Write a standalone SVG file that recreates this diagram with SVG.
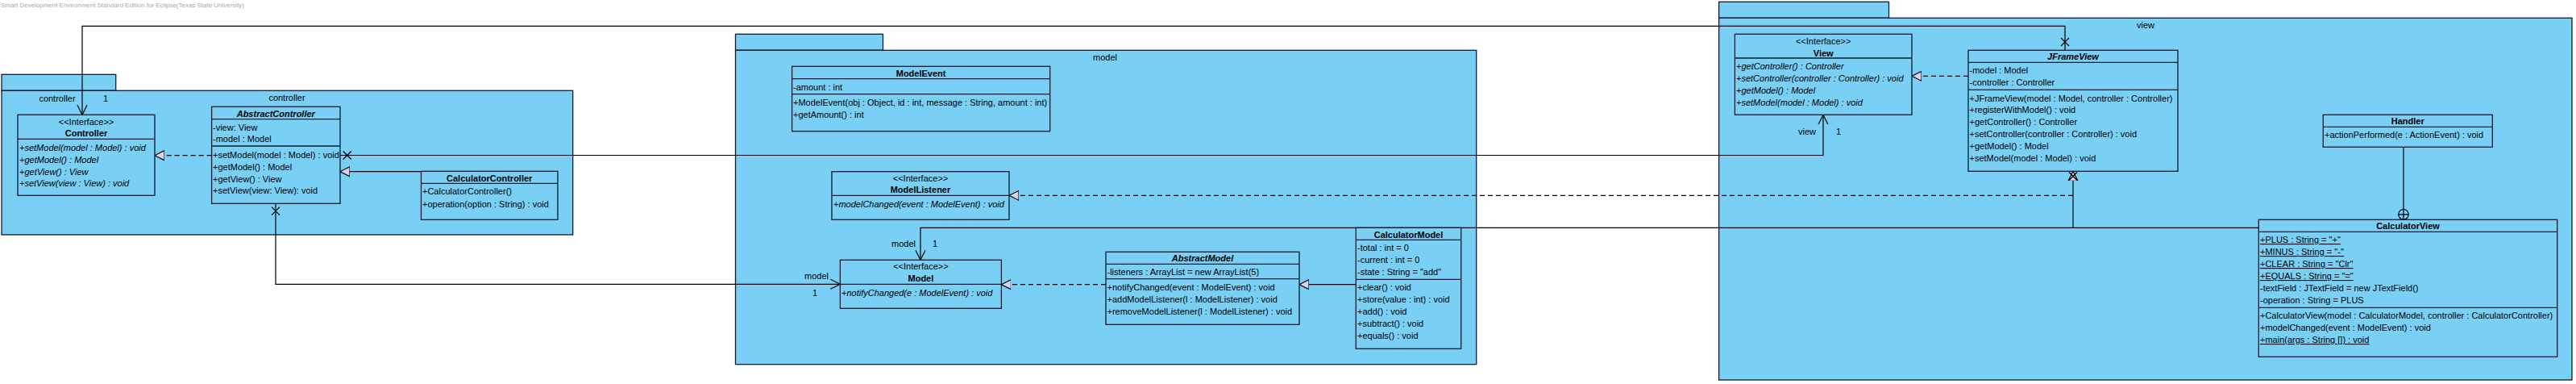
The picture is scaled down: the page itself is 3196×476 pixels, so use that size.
<svg xmlns="http://www.w3.org/2000/svg" width="3196" height="476" viewBox="0 0 3196 476">
<style>
text{font-family:"Liberation Sans",Arial,sans-serif;font-size:11px;fill:#000}
.pkg{fill:#7acff5;stroke:#0d1a2e;stroke-width:1.3}
.box{fill:#7acff5;stroke:#0d1a2e;stroke-width:1.3}
.sep{stroke:#0d1a2e;stroke-width:1.3}
.c{text-anchor:middle}
.b{font-weight:bold}
.i{font-style:italic}
.u{text-decoration:underline}
.ln{fill:none;stroke:#000;stroke-width:1.2}
.dash{fill:none;stroke:#000;stroke-width:1.2;stroke-dasharray:6,4}
.tri{fill:#d9d4ee;stroke:#000;stroke-width:1.2}
.hdr{font-size:8px;fill:#a8a8a8}
</style>
<defs>
<marker id="open" markerWidth="14" markerHeight="14" refX="12" refY="7" orient="auto" markerUnits="userSpaceOnUse"><path d="M0,1 L12,7 L0,13" fill="none" stroke="#000" stroke-width="1.2"/></marker>
<marker id="tri" markerWidth="14" markerHeight="14" refX="12" refY="7" orient="auto" markerUnits="userSpaceOnUse"><path d="M0,1 L12,7 L0,13 Z" class="tri"/></marker>
</defs>
<rect width="3196" height="476" fill="#fff"/>
<text class="hdr" x="1" y="9" textLength="302" lengthAdjust="spacingAndGlyphs">Smart Development Environment Standard Edition for Eclipse(Texas State University)</text>

<g id="pkg-controller">
<rect class="pkg" x="2" y="92.3" width="141.7" height="20"/>
<rect class="pkg" x="2" y="112.3" width="708.7" height="178.7"/>
<text class="c" x="356" y="124.5">controller</text>
</g>
<g id="pkg-model">
<rect class="pkg" x="912.5" y="42.3" width="183" height="20"/>
<rect class="pkg" x="912.5" y="62.3" width="919.2" height="389.4"/>
<text class="c" x="1371" y="74.5">model</text>
</g>
<g id="pkg-view">
<rect class="pkg" x="2132.6" y="2.3" width="210.9" height="20"/>
<rect class="pkg" x="2132.6" y="22.3" width="1058.4" height="448.7"/>
<text class="c" x="2662" y="34.5">view</text>
</g>

<g id="connectors">
<polyline class="ln" points="2562,62.3 2562,32.3 102,32.3 102,142.3" marker-end="url(#open)"/>
<path class="ln" d="M2557,47 L2567,57 M2567,47 L2557,57"/>
<text class="c" x="71" y="126">controller</text>
<text class="c" x="131" y="126">1</text>

<polyline class="ln" points="422,192.5 2262,192.5 2262,142.3" marker-end="url(#open)"/>
<path class="ln" d="M425.7,187.5 L435.7,197.5 M435.7,187.5 L425.7,197.5"/>
<text class="c" x="2242" y="166.5">view</text>
<text class="c" x="2281" y="166.5">1</text>

<polyline class="ln" points="342,252.3 342,352.3 1042.4,352.3" marker-end="url(#open)"/>
<path class="ln" d="M337,256.7 L347,266.7 M347,256.7 L337,266.7"/>
<text class="c" x="1013" y="346">model</text>
<text class="c" x="1011" y="366.5">1</text>

<line class="dash" x1="262.6" y1="192.7" x2="192" y2="192.7" marker-end="url(#tri)"/>
<line class="ln" x1="522.5" y1="212.7" x2="422" y2="212.7" marker-end="url(#tri)"/>

<line class="dash" x1="2572" y1="242.3" x2="1252" y2="242.3" marker-end="url(#tri)"/>
<polyline class="ln" points="2802.3,282.3 2572,282.3 1142,282.3 1142,322.3" marker-end="url(#open)"/>
<line class="ln" x1="2572" y1="282.3" x2="2572" y2="212.3" marker-end="url(#tri)"/>
<path class="ln" d="M2567,213.5 L2577,223.5 M2577,213.5 L2567,223.5"/>
<text class="c" x="1121" y="306">model</text>
<text class="c" x="1160" y="306">1</text>

<line class="dash" x1="1372" y1="352.7" x2="1242.4" y2="352.7" marker-end="url(#tri)"/>
<line class="ln" x1="1682.3" y1="352.7" x2="1612" y2="352.7" marker-end="url(#tri)"/>
<line class="dash" x1="2442" y1="94.3" x2="2372" y2="94.3" marker-end="url(#tri)"/>

<line class="ln" x1="2982" y1="182.3" x2="2982" y2="259.3"/>
<circle cx="2982" cy="265.8" r="6.3" fill="none" stroke="#000" stroke-width="1.2"/>
<path class="ln" d="M2975.7,265.8 H2988.3 M2982,259.5 V272.1"/>
</g>

<g id="Controller">
<rect class="box" x="22" y="142.3" width="170" height="100"/>
<text class="c" x="107" y="154.5">&lt;&lt;Interface&gt;&gt;</text>
<text class="c b" x="107" y="169">Controller</text>
<line class="sep" x1="22" y1="172.3" x2="192" y2="172.3"/>
<text class="i" x="24" y="186.5">+setModel(model : Model) : void</text>
<text class="i" x="24" y="201.5">+getModel() : Model</text>
<text class="i" x="24" y="216.5">+getView() : View</text>
<text class="i" x="24" y="231">+setView(view : View) : void</text>
</g>

<g id="AbstractController">
<rect class="box" x="262.6" y="132.3" width="159.4" height="120"/>
<text class="c b i" x="342.3" y="144.5">AbstractController</text>
<line class="sep" x1="262.6" y1="147.7" x2="422" y2="147.7"/>
<text x="264" y="161.5">-view: View</text>
<text x="264" y="176">-model : Model</text>
<line class="sep" x1="262.6" y1="181" x2="422" y2="181"/>
<text x="264" y="196">+setModel(model : Model) : void</text>
<text x="264" y="211">+getModel() : Model</text>
<text x="264" y="225.5">+getView() : View</text>
<text x="264" y="240">+setView(view: View): void</text>
</g>

<g id="CalculatorController">
<rect class="box" x="522.5" y="212.3" width="169.5" height="60"/>
<text class="c b" x="607.2" y="224.5">CalculatorController</text>
<line class="sep" x1="522.5" y1="227.3" x2="692" y2="227.3"/>
<text x="524" y="241">+CalculatorController()</text>
<text x="524" y="256.5">+operation(option : String) : void</text>
</g>

<g id="ModelEvent">
<rect class="box" x="982.6" y="82.3" width="320.1" height="80.4"/>
<text class="c b" x="1142.6" y="95">ModelEvent</text>
<line class="sep" x1="982.6" y1="97.7" x2="1302.7" y2="97.7"/>
<text x="984" y="111.5">-amount : int</text>
<line class="sep" x1="982.6" y1="116.7" x2="1302.7" y2="116.7"/>
<text x="984" y="131">+ModelEvent(obj : Object, id : int, message : String, amount : int)</text>
<text x="984" y="145.5">+getAmount() : int</text>
</g>

<g id="ModelListener">
<rect class="box" x="1032" y="212.7" width="220" height="59.6"/>
<text class="c" x="1142" y="225">&lt;&lt;Interface&gt;&gt;</text>
<text class="c b" x="1142" y="239">ModelListener</text>
<line class="sep" x1="1032" y1="242.3" x2="1252" y2="242.3"/>
<text class="i" x="1034" y="256.5">+modelChanged(event : ModelEvent) : void</text>
</g>

<g id="Model">
<rect class="box" x="1042.4" y="322.3" width="200" height="60"/>
<text class="c" x="1142.4" y="334">&lt;&lt;Interface&gt;&gt;</text>
<text class="c b" x="1142.4" y="349">Model</text>
<line class="sep" x1="1042.4" y1="352.3" x2="1242.4" y2="352.3"/>
<text class="i" x="1044" y="366.5">+notifyChanged(e : ModelEvent) : void</text>
</g>

<g id="AbstractModel">
<rect class="box" x="1372" y="312.3" width="240" height="90"/>
<text class="c b i" x="1492" y="324">AbstractModel</text>
<line class="sep" x1="1372" y1="327.3" x2="1612" y2="327.3"/>
<text x="1373.5" y="341">-listeners : ArrayList = new ArrayList(5)</text>
<line class="sep" x1="1372" y1="345.7" x2="1612" y2="345.7"/>
<text x="1373.5" y="360">+notifyChanged(event : ModelEvent) : void</text>
<text x="1373.5" y="375">+addModelListener(l : ModelListener) : void</text>
<text x="1373.5" y="390">+removeModelListener(l : ModelListener) : void</text>
</g>

<g id="CalculatorModel">
<rect class="box" x="1682.3" y="282.3" width="130.4" height="150"/>
<text class="c b" x="1747.5" y="294.5">CalculatorModel</text>
<line class="sep" x1="1682.3" y1="297.3" x2="1812.7" y2="297.3"/>
<text x="1684" y="311">-total : int = 0</text>
<text x="1684" y="326">-current : int = 0</text>
<text x="1684" y="341">-state : String = "add"</text>
<line class="sep" x1="1682.3" y1="346.3" x2="1812.7" y2="346.3"/>
<text x="1684" y="360">+clear() : void</text>
<text x="1684" y="375">+store(value : int) : void</text>
<text x="1684" y="390">+add() : void</text>
<text x="1684" y="405">+subtract() : void</text>
<text x="1684" y="420">+equals() : void</text>
</g>

<g id="View">
<rect class="box" x="2152.4" y="42.3" width="219.6" height="100"/>
<text class="c" x="2262.2" y="54.5">&lt;&lt;Interface&gt;&gt;</text>
<text class="c b" x="2262.2" y="69.5">View</text>
<line class="sep" x1="2152.4" y1="72" x2="2372" y2="72"/>
<text class="i" x="2154" y="86">+getController() : Controller</text>
<text class="i" x="2154" y="101">+setController(controller : Controller) : void</text>
<text class="i" x="2154" y="116">+getModel() : Model</text>
<text class="i" x="2154" y="131">+setModel(model : Model) : void</text>
</g>

<g id="JFrameView">
<rect class="box" x="2442" y="62.3" width="260" height="150"/>
<text class="c b i" x="2572" y="74">JFrameView</text>
<line class="sep" x1="2442" y1="77.3" x2="2702" y2="77.3"/>
<text x="2443.5" y="91">-model : Model</text>
<text x="2443.5" y="106">-controller : Controller</text>
<line class="sep" x1="2442" y1="111.3" x2="2702" y2="111.3"/>
<text x="2443.5" y="125.5">+JFrameView(model : Model, controller : Controller)</text>
<text x="2443.5" y="140">+registerWithModel() : void</text>
<text x="2443.5" y="155">+getController() : Controller</text>
<text x="2443.5" y="169.5">+setController(controller : Controller) : void</text>
<text x="2443.5" y="185">+getModel() : Model</text>
<text x="2443.5" y="200">+setModel(model : Model) : void</text>
</g>

<g id="Handler">
<rect class="box" x="2882.3" y="142.3" width="210" height="40"/>
<text class="c b" x="2987.3" y="154">Handler</text>
<line class="sep" x1="2882.3" y1="157.3" x2="3092.3" y2="157.3"/>
<text x="2884" y="170.5">+actionPerformed(e : ActionEvent) : void</text>
</g>

<g id="CalculatorView">
<rect class="box" x="2802.3" y="272.3" width="370.4" height="170"/>
<text class="c b" x="2987.5" y="284">CalculatorView</text>
<line class="sep" x1="2802.3" y1="287.3" x2="3172.7" y2="287.3"/>
<text class="u" x="2804" y="301">+PLUS : String = "+"</text>
<text class="u" x="2804" y="316">+MINUS : String = "-"</text>
<text class="u" x="2804" y="331">+CLEAR : String = "Clr"</text>
<text class="u" x="2804" y="346">+EQUALS : String = "="</text>
<text x="2804" y="361">-textField : JTextField = new JTextField()</text>
<text x="2804" y="376">-operation : String = PLUS</text>
<line class="sep" x1="2802.3" y1="381.3" x2="3172.7" y2="381.3"/>
<text x="2804" y="395">+CalculatorView(model : CalculatorModel, controller : CalculatorController)</text>
<text x="2804" y="410">+modelChanged(event : ModelEvent) : void</text>
<text class="u" x="2804" y="425">+main(args : String []) : void</text>
</g>
</svg>
